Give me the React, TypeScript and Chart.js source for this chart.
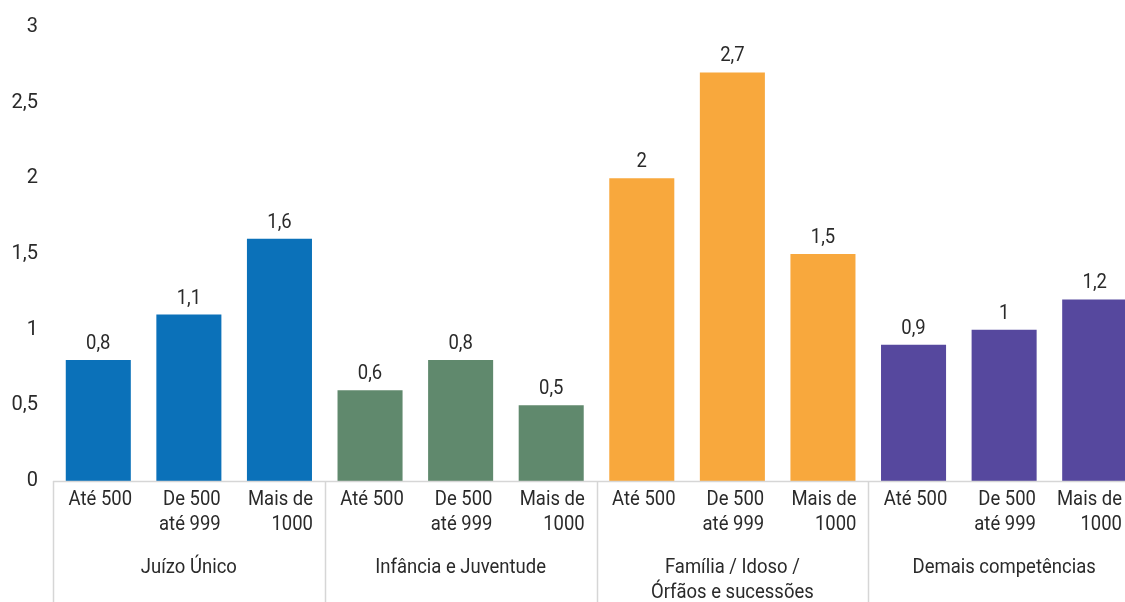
import React, { useEffect, useRef } from "react";
import { Chart, registerables } from "chart.js";

Chart.register(...registerables);

const groupLabels: string[][] = [
  ["Juízo Único"],
  ["Infância e Juventude"],
  ["Família / Idoso /", "Órfãos e sucessões"],
  ["Demais competências"],
];
const subLabels: string[][] = [["Até 500"], ["De 500", "até 999"], ["Mais de", "1000"]];
const juizoUnico = [0.8, 1.1, 1.6];
const infancia = [0.6, 0.8, 0.5];
const familia = [2, 2.7, 1.5];
const demais = [0.9, 1, 1.2];
const groupColors = ["#0b71b9", "#60896d", "#f8a83d", "#56489e"];
const yTicks = [0, 0.5, 1, 1.5, 2, 2.5, 3];

const seriesByGroup = [juizoUnico, infancia, familia, demais];
const values: number[] = seriesByGroup.flat();
const barColors: string[] = seriesByGroup.flatMap((g, gi) => g.map(() => groupColors[gi]));
const categoryLabels: string[][] = seriesByGroup.flatMap((g) => g.map((_, i) => subLabels[i]));

const FONT = "Roboto, 'Noto Sans', sans-serif";
const TEXT = "#2a2a2a";
const SX = 0.88;
const fmt = (v: number) => String(v).replace(".", ",");

function drawText(ctx: CanvasRenderingContext2D, t: string, x: number, y: number, align: CanvasTextAlign) {
  ctx.save();
  ctx.translate(x, y);
  ctx.scale(SX, 1);
  ctx.textAlign = align;
  ctx.fillText(t, 0, 0);
  ctx.restore();
}

const customPlugin = {
  id: "custom",
  afterDatasetsDraw(chart: any) {
    const ctx = chart.ctx;
    const meta = chart.getDatasetMeta(0);
    ctx.save();
    ctx.font = `21px ${FONT}`;
    ctx.fillStyle = TEXT;
    ctx.textBaseline = "alphabetic";
    meta.data.forEach((el: any, i: number) => {
      drawText(ctx, fmt(values[i]), el.x, el.y - 11, "center");
    });
    ctx.restore();
  },
  afterDraw(chart: any) {
    const ctx = chart.ctx;
    const x = chart.scales.x;
    const area = chart.chartArea;
    const H = chart.height;
    ctx.save();
    ctx.strokeStyle = "#d6d6d6";
    ctx.lineWidth = 1.5;
    ctx.beginPath();
    ctx.moveTo(area.left, area.bottom + 0.5);
    ctx.lineTo(area.right, area.bottom + 0.5);
    ctx.stroke();
    const n = values.length;
    const bounds: number[] = [area.left];
    let idx = 0;
    seriesByGroup.forEach((g) => {
      idx += g.length;
      if (idx < n) {
        bounds.push((x.getPixelForValue(idx - 1) + x.getPixelForValue(idx)) / 2);
      }
    });
    bounds.push(area.right);
    ctx.beginPath();
    bounds.forEach((bx) => {
      const px = Math.round(bx) + 0.5;
      ctx.moveTo(px, area.bottom);
      ctx.lineTo(px, H);
    });
    ctx.stroke();
    ctx.font = `21px ${FONT}`;
    ctx.fillStyle = TEXT;
    ctx.textBaseline = "middle";
    categoryLabels.forEach((lines, i) => {
      const cx = x.getPixelForValue(i);
      const maxW = Math.max(...lines.map((l) => ctx.measureText(l).width)) * SX;
      if (lines.length === 1) {
        drawText(ctx, lines[0], cx + 2, area.bottom + 19, "center");
      } else {
        const right = Math.min(cx + maxW / 2 + 1, 1122);
        lines.forEach((l, li) => {
          drawText(ctx, l, right, area.bottom + 19 + li * 25, "right");
        });
      }
    });
    let start = 0;
    seriesByGroup.forEach((g, gi) => {
      const cx = (x.getPixelForValue(start) + x.getPixelForValue(start + g.length - 1)) / 2;
      groupLabels[gi].forEach((l, li) => {
        drawText(ctx, l, cx, area.bottom + 87 + li * 25, "center");
      });
      start += g.length;
    });
    ctx.restore();
  },
};

export default function App() {
  const ref = useRef<HTMLCanvasElement | null>(null);
  useEffect(() => {
    if (!ref.current) return;
    const chart = new Chart(ref.current, {
      type: "bar",
      data: {
        labels: categoryLabels.map((l) => l.join(" ")),
        datasets: [
          {
            data: values,
            backgroundColor: barColors,
            borderWidth: 0,
            categoryPercentage: 1,
            barPercentage: 0.718,
          },
        ],
      },
      options: {
        animation: false,
        responsive: false,
        maintainAspectRatio: false,
        layout: { padding: { top: 25, bottom: 121, left: 0, right: 0 } },
        plugins: {
          legend: { display: false },
          tooltip: { enabled: false },
        },
        scales: {
          x: { display: false },
          y: {
            min: 0,
            max: 3,
            afterBuildTicks: (scale: any) => {
              scale.ticks = yTicks.map((v) => ({ value: v }));
            },
            afterFit: (scale: any) => {
              scale.width = 53;
            },
            grid: { display: false, drawTicks: false },
            border: { display: false },
            ticks: {
              padding: 15,
              color: TEXT,
              font: { family: FONT, size: 20 },
              callback: (v: any) => fmt(Number(v)),
            },
          },
        },
      },
      plugins: [customPlugin],
    });
    return () => chart.destroy();
  }, []);
  return (
    <div style={{ position: "fixed", left: 0, top: 0, width: 1125, height: 602, overflow: "hidden", background: "#fff" }}>
      <canvas ref={ref} width={1140} height={602} style={{ display: "block" }} />
    </div>
  );
}
